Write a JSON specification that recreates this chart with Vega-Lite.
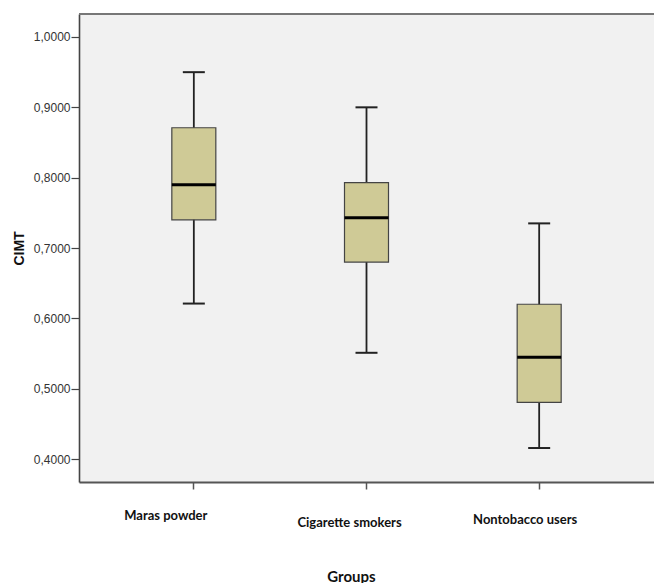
{
  "$schema": "https://vega.github.io/schema/vega-lite/v6.json",
  "width": 575,
  "height": 468,
  "autosize": "none",
  "padding": {"left": 79, "top": 14, "right": 0, "bottom": 101},
  "background": "white",
  "config": {
    "view": {"fill": "#f1f1f1", "stroke": null},
    "axisX": {
      "domainColor": "#555555", "domainWidth": 2,
      "tickColor": "#555555", "tickWidth": 1.5, "tickSize": 7,
      "labelFont": "Lato", "labelFontWeight": "bold", "labelFontSize": 13, "labelColor": "#111111",
      "labelAngle": 0,
      "titleFont": "Lato", "titleFontSize": 15, "titleFontWeight": "bold", "titleColor": "#111111",
      "titleX": 272, "titleY": 94, "titleBaseline": "middle",
      "grid": false
    },
    "axisY": {
      "domainColor": "#444444", "domainWidth": 1.6,
      "tickColor": "#444444", "tickWidth": 1.2, "tickSize": 8,
      "labelFont": "Liberation Sans", "labelFontSize": 12, "labelColor": "#333333", "labelPadding": 1,
      "titleFont": "Liberation Sans", "titleFontSize": 14, "titleFontWeight": "bold", "titleColor": "#111111",
      "titlePadding": 7, "grid": false
    }
  },
  "data": {
    "values": [
      {"Group": "Maras powder", "lower": 0.621, "q1": 0.740, "median": 0.790, "q3": 0.871, "upper": 0.950},
      {"Group": "Cigarette smokers", "lower": 0.551, "q1": 0.680, "median": 0.743, "q3": 0.793, "upper": 0.900},
      {"Group": "Nontobacco users", "lower": 0.4156, "q1": 0.4806, "median": 0.5446, "q3": 0.620, "upper": 0.735}
    ]
  },
  "layer": [
    {
      "mark": {"type": "rule", "color": "#222222", "strokeWidth": 1.8},
      "encoding": {
        "x": {
          "field": "Group", "type": "nominal", "title": "Groups",
          "sort": ["Maras powder", "Cigarette smokers", "Nontobacco users"],
          "scale": {"paddingInner": 0, "paddingOuter": 0.165},
          "axis": {
            "labelOffset": {
              "condition": [
                {"test": "datum.value === 'Maras powder'", "value": -28},
                {"test": "datum.value === 'Cigarette smokers'", "value": -17}
              ],
              "value": -14
            },
            "labelPadding": {
              "condition": [
                {"test": "datum.value === 'Cigarette smokers'", "value": 27},
                {"test": "datum.value === 'Nontobacco users'", "value": 24}
              ],
              "value": 20
            }
          }
        },
        "y": {
          "field": "lower", "type": "quantitative", "title": "CIMT",
          "scale": {"domain": [0.3673, 1.0327], "nice": false, "zero": false},
          "axis": {
            "values": [0.4, 0.5, 0.6, 0.7, 0.8, 0.9, 1.0],
            "labelExpr": "replace(format(datum.value, '.4f'), '.', ',')"
          }
        },
        "y2": {"field": "upper"}
      }
    },
    {
      "mark": {"type": "tick", "color": "#222222", "opacity": 1, "size": 22, "thickness": 2},
      "encoding": {
        "x": {"field": "Group", "type": "nominal", "sort": ["Maras powder", "Cigarette smokers", "Nontobacco users"]},
        "y": {"field": "lower", "type": "quantitative", "title": "CIMT"}
      }
    },
    {
      "mark": {"type": "tick", "color": "#222222", "opacity": 1, "size": 22, "thickness": 2},
      "encoding": {
        "x": {"field": "Group", "type": "nominal", "sort": ["Maras powder", "Cigarette smokers", "Nontobacco users"]},
        "y": {"field": "upper", "type": "quantitative", "title": "CIMT"}
      }
    },
    {
      "mark": {"type": "bar", "size": 44, "fill": "#cfca96", "stroke": "#444444", "strokeWidth": 1.2},
      "encoding": {
        "x": {"field": "Group", "type": "nominal", "sort": ["Maras powder", "Cigarette smokers", "Nontobacco users"]},
        "y": {"field": "q1", "type": "quantitative", "title": "CIMT"},
        "y2": {"field": "q3"}
      }
    },
    {
      "mark": {"type": "tick", "color": "#000000", "opacity": 1, "size": 44, "thickness": 3},
      "encoding": {
        "x": {"field": "Group", "type": "nominal", "sort": ["Maras powder", "Cigarette smokers", "Nontobacco users"]},
        "y": {"field": "median", "type": "quantitative", "title": "CIMT"}
      }
    },
    {
      "mark": {"type": "rule", "color": "#777777", "strokeWidth": 2},
      "encoding": {
        "y": {"datum": 1.0327, "type": "quantitative"}
      }
    }
  ]
}
